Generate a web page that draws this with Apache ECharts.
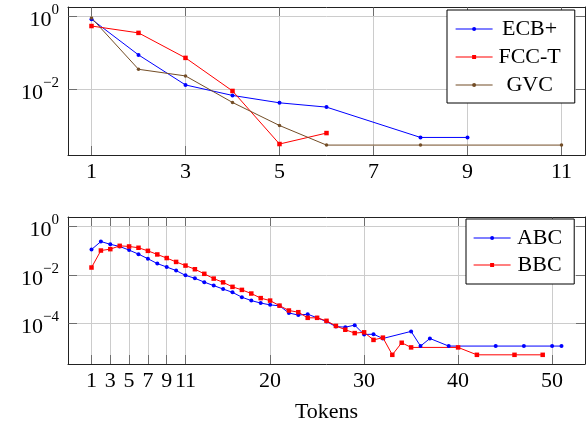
<!DOCTYPE html>
<html><head><meta charset="utf-8">
<script src="https://cdn.jsdelivr.net/npm/echarts@6/dist/echarts.min.js"></script>
<style>html,body{margin:0;padding:0;background:#fff}#c{width:586px;height:425px}</style>
</head><body><div id="c"></div>
<script>
// ---- tick labels ----
const topXTicks = [1, 3, 5, 7, 9, 11];
const bottomXTicks = [1, 3, 5, 7, 9, 11, 20, 30, 40, 50];
const topYTicks = [1, 0.01];
const bottomYTicks = [1, 0.01, 0.0001];
const xAxisTitle = 'Tokens';

// ---- top panel series ----
const topSeriesNames = ['ECB+', 'FCC-T', 'GVC'];
const ecbTokens = [1, 2, 3, 4, 5, 6, 8, 9];
const ecbValues = [0.83, 0.087, 0.013, 0.0067, 0.0042, 0.0032, 0.00047, 0.00047];
const fccTokens = [1, 2, 3, 4, 5, 6];
const fccValues = [0.54, 0.35, 0.072, 0.0089, 0.00031, 0.00062];
const gvcTokens = [1, 2, 3, 4, 5, 6, 8, 11];
const gvcValues = [0.9, 0.035, 0.023, 0.0043, 0.001, 0.00029, 0.00029, 0.00029];

// ---- bottom panel series ----
const bottomSeriesNames = ['ABC', 'BBC'];
const abcTokens = [1,2,3,4,5,6,7,8,9,10,11,12,13,14,15,16,17,18,19,20,21,22,23,24,25,26,27,28,29,30,31,32,35,36,37,39,44,47,50,51];
const abcValues = [0.11,0.235,0.18,0.147,0.104,0.071,0.046,0.029,0.021,0.015,0.0095,0.0072,0.005,0.0036,0.0026,0.0019,0.0012,0.00087,0.00069,0.00058,0.00053,0.00027,0.00022,0.00024,0.00017,0.00012,0.000074,0.00007,0.000085,0.000035,0.000036,0.000024,0.000047,0.0000117,0.000024,0.0000117,0.0000117,0.0000117,0.0000117,0.0000117];
const bbcTokens = [1,2,3,4,5,6,7,8,9,10,11,12,13,14,15,16,17,18,19,20,21,22,23,24,25,26,27,28,29,30,31,32,33,34,35,40,42,46,49];
const bbcValues = [0.020,0.1,0.114,0.156,0.147,0.13,0.097,0.069,0.049,0.034,0.024,0.017,0.011,0.007,0.0049,0.0032,0.0024,0.0017,0.0011,0.00087,0.00054,0.00034,0.00029,0.00017,0.00017,0.000128,0.000079,0.000055,0.00004,0.000043,0.000021,0.000026,0.0000051,0.000016,0.0000103,0.0000103,0.0000051,0.0000051,0.0000051];

const FONT = "'Liberation Serif','Times New Roman',serif";
const BLUE = '#0000ff', RED = '#ff0000', BROWN = '#734d26';

function pairs(xs, ys) { return xs.map((x, i) => [x, ys[i]]); }

function supLabel(v) {
  const e = Math.round(Math.log10(v));
  const s = e < 0 ? '\u2212' + (-e) : String(e);
  return '{b|10}{s|' + s + '}';
}
const supRich = {
  b: { fontSize: 22, fontFamily: FONT, color: '#000', lineHeight: 22, padding: [8, 0, 0, 0] },
  s: { fontSize: 15, fontFamily: FONT, color: '#000', lineHeight: 15, padding: [0, 0, 12, 0] }
};

const tickStyle = { color: '#555', width: 0.8 };
const lineAxis = { show: true, onZero: false, lineStyle: { color: '#222', width: 1 } };
const gridLine = { show: true, lineStyle: { color: '#cccccc', width: 1 } };

function makeX(gridIndex, min, max, ticks, name) {
  const main = {
    type: 'value', gridIndex, min, max, position: 'bottom',
    axisLine: lineAxis,
    axisTick: { show: true, inside: true, length: 9, customValues: ticks, lineStyle: tickStyle },
    axisLabel: { show: true, customValues: ticks, margin: 6, fontSize: 22, fontFamily: FONT, color: '#000' },
    splitLine: gridLine
  };
  if (name) {
    main.name = name; main.nameLocation = 'middle'; main.nameGap = 37;
    main.nameTextStyle = { fontSize: 22, fontFamily: FONT, color: '#000' };
  }
  const mirror = {
    type: 'value', gridIndex, min, max, position: 'top',
    axisLine: lineAxis,
    axisTick: { show: true, inside: true, length: 9, customValues: ticks, lineStyle: tickStyle },
    axisLabel: { show: false },
    splitLine: { show: false }
  };
  return [main, mirror];
}
function makeY(gridIndex, min, max, ticks) {
  const main = {
    type: 'log', logBase: 10, gridIndex, min, max, position: 'left',
    axisLine: lineAxis,
    axisTick: { show: true, inside: true, length: 9, customValues: ticks, lineStyle: tickStyle },
    axisLabel: { show: true, customValues: ticks, margin: 9, formatter: supLabel, rich: supRich },
    splitLine: gridLine,
    minorTick: { show: false }, minorSplitLine: { show: false }
  };
  const mirror = {
    type: 'log', logBase: 10, gridIndex, min, max, position: 'right',
    axisLine: lineAxis,
    axisTick: { show: true, inside: true, length: 9, customValues: ticks, lineStyle: tickStyle },
    axisLabel: { show: false },
    splitLine: { show: false }
  };
  return [main, mirror];
}

function line(name, xs, ys, color, symbol, size, xi, yi) {
  return {
    name, type: 'line', xAxisIndex: xi, yAxisIndex: yi,
    data: pairs(xs, ys),
    symbol, symbolSize: size, showSymbol: true, showAllSymbol: true,
    lineStyle: { color, width: 1 }, itemStyle: { color },
    emphasis: { disabled: true }, z: 3
  };
}

const legendBase = {
  orient: 'vertical', backgroundColor: '#fff', borderColor: '#000', borderWidth: 1,
  itemWidth: 37, itemHeight: 5, selectedMode: false, inactiveColor: '#000',
  lineStyle: { width: 1.2 },
  textStyle: { fontSize: 22, fontFamily: FONT, color: '#000' }
};

const option = {
  animation: false,
  backgroundColor: '#fff',
  grid: [
    { left: 68, right: 1, top: 7, bottom: 270, containLabel: false },
    { left: 68, right: 1, top: 217, bottom: 61, containLabel: false }
  ],
  xAxis: [].concat(
    makeX(0, 0.5, 11.5, topXTicks, null),
    makeX(1, -1.5, 53.5, bottomXTicks, xAxisTitle)
  ),
  yAxis: [].concat(
    makeY(0, Math.pow(10, -3.81), Math.pow(10, 0.255), topYTicks),
    makeY(1, Math.pow(10, -5.67), Math.pow(10, 0.38), bottomYTicks)
  ),
  legend: [
    Object.assign({}, legendBase, {
      data: topSeriesNames, left: 447, top: 10, itemGap: 6, padding: [8, 14, 7, 8],
      formatter: '{t|{name}}',
      textStyle: { fontSize: 22, fontFamily: FONT, color: '#000', rich: { t: { width: 64, align: 'center', fontSize: 22, fontFamily: FONT, color: '#000' } } }
    }),
    Object.assign({}, legendBase, {
      data: bottomSeriesNames, left: 466, top: 219, itemGap: 5, padding: [8, 12, 8, 7],
      formatter: '{t|{name}}',
      textStyle: { fontSize: 22, fontFamily: FONT, color: '#000', rich: { t: { width: 48, align: 'center', fontSize: 22, fontFamily: FONT, color: '#000' } } }
    })
  ],
  series: [
    line(topSeriesNames[0], ecbTokens, ecbValues, BLUE, 'circle', 4, 0, 0),
    line(topSeriesNames[1], fccTokens, fccValues, RED, 'rect', 4.5, 0, 0),
    line(topSeriesNames[2], gvcTokens, gvcValues, BROWN, 'circle', 3.5, 0, 0),
    line(bottomSeriesNames[0], abcTokens, abcValues, BLUE, 'circle', 4, 2, 2),
    line(bottomSeriesNames[1], bbcTokens, bbcValues, RED, 'rect', 4.5, 2, 2)
  ]
};

const chart = echarts.init(document.getElementById('c'), null, { renderer: 'canvas' });
chart.setOption(option);
</script>
</body></html>
